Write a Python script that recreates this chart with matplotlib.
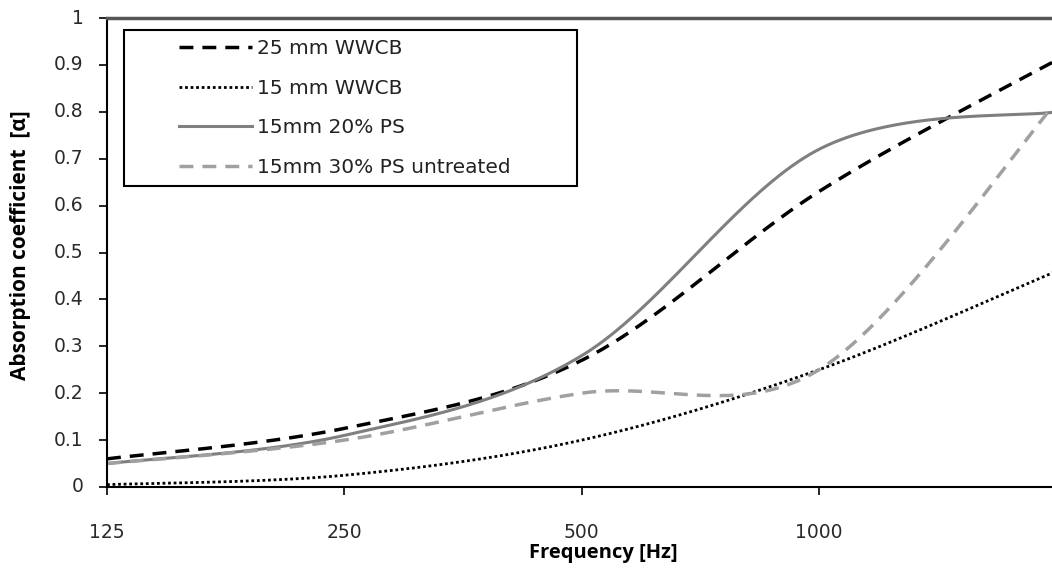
import numpy as np
import matplotlib
matplotlib.use("Agg")
import matplotlib.pyplot as plt
from matplotlib.patches import Rectangle

freqs = [125, 250, 500, 1000, 2000]
wwcb25 = [0.06, 0.125, 0.27, 0.63, 0.91]
wwcb15 = [0.005, 0.025, 0.10, 0.25, 0.46]
ps20 = [0.05, 0.11, 0.28, 0.72, 0.80]
ps30 = [0.05, 0.10, 0.20, 0.25, 0.82]
xticks = [125, 250, 500, 1000]
yticks = [0, 0.1, 0.2, 0.3, 0.4, 0.5, 0.6, 0.7, 0.8, 0.9, 1]
labels = ["25 mm WWCB", "15 mm WWCB", "15mm 20% PS", "15mm 30% PS untreated"]

# screen scale used for Excel-like smoothing (px per octave, px per unit)
SX, SY = 237.0, 469.0


def excel_smooth(xs, ys, n=80):
    X = np.log2(np.asarray(xs, float) / xs[0]) * SX
    Y = np.asarray(ys, float) * SY
    P = np.column_stack([X, Y])
    N = len(P)
    out = []
    for i in range(N - 1):
        P0 = P[i - 1] if i > 0 else P[i]
        P1, P2 = P[i], P[i + 1]
        P3 = P[i + 2] if i + 2 < N else P[i + 1]
        d02 = np.linalg.norm(P2 - P0)
        d12 = np.linalg.norm(P2 - P1)
        d13 = np.linalg.norm(P3 - P1)
        if d02 == 0 or d02 / 6 < d12 / 2:
            C1 = P1 + (P2 - P0) / 6
        else:
            C1 = P1 + (P2 - P0) * (d12 / 2) / d02
        if d13 == 0 or d13 / 6 < d12 / 2:
            C2 = P2 - (P3 - P1) / 6
        else:
            C2 = P2 - (P3 - P1) * (d12 / 2) / d13
        t = np.linspace(0, 1, n)[:, None]
        B = ((1 - t) ** 3) * P1 + 3 * ((1 - t) ** 2) * t * C1 + 3 * (1 - t) * t ** 2 * C2 + t ** 3 * P2
        out.append(B if i == 0 else B[1:])
    B = np.vstack(out)
    return xs[0] * 2 ** (B[:, 0] / SX), B[:, 1] / SY


plt.rcParams['font.family'] = ['DejaVu Sans']

fig = plt.figure(figsize=(10.52, 5.81), dpi=100)
ax = fig.add_axes([107 / 1052, 1 - 487 / 581, 1 - 107 / 1052, (487 - 18) / 581])

styles = [
    dict(color='black', lw=2.5, linestyle=(0, (4, 2.6))),
    dict(color='black', lw=2.0, linestyle=(0, (1, 1))),
    dict(color='#7f7f7f', lw=2.2, linestyle='-'),
    dict(color='#a0a0a0', lw=2.5, linestyle=(0, (4, 2.6))),
]
handles = []
for ys, lab, st in zip([wwcb25, wwcb15, ps20, ps30], labels, styles):
    xs, yy = excel_smooth(freqs, ys)
    h, = ax.plot(xs, yy, label=lab, **st)
    handles.append(h)

ax.set_xscale('log', base=2)
ax.set_xlim(125, 1975)
ax.set_ylim(0, 1)
ax.set_xticks(xticks)
ax.set_xticklabels([str(v) for v in xticks])
ax.xaxis.set_minor_locator(matplotlib.ticker.NullLocator())
ax.set_yticks(yticks)
ax.set_yticklabels([f'{v:g}' for v in yticks])

for s in ['left', 'bottom']:
    ax.spines[s].set_linewidth(1.5)
    ax.spines[s].set_color('black')
ax.spines['top'].set_linewidth(2.5)
ax.spines['top'].set_color('#555555')
ax.spines['right'].set_visible(False)

ax.tick_params(axis='y', direction='out', length=6, width=1.2, labelsize=13.5, pad=11)
ax.tick_params(axis='x', direction='out', length=6, width=1.2, labelsize=13.5, pad=20)
for lbl in ax.get_yticklabels():
    lbl.set_color('#2a2a2a')
    lbl.set_va('center')
for lbl in ax.get_xticklabels():
    lbl.set_color('#2a2a2a')

bold = dict(fontsize=14.5, fontweight='bold', family=['Open Sans', 'DejaVu Sans'])
ax.set_xlabel('Frequency [Hz]', **bold)
ax.xaxis.set_label_coords((603 - 107) / 945, -(543 - 487) / 469)
ax.set_ylabel('Absorption coefficient  [α]', fontsize=15, fontweight='bold',
              family=['Open Sans', 'DejaVu Sans'])
ax.yaxis.set_label_coords((31 - 107) / 945, (487 - 245) / 469)

# legend box (frame drawn separately, like the reference)
fig.patches.append(Rectangle((124 / 1052, 1 - 186 / 581), (577 - 124) / 1052, (186 - 30) / 581,
                             transform=fig.transFigure, fill=True, facecolor='white',
                             edgecolor='black', lw=1.5, zorder=5))
leg = fig.legend(handles=handles, labels=labels, loc='upper left',
                 bbox_to_anchor=(179 / 1052, 1 - 39 / 581), bbox_transform=fig.transFigure,
                 fontsize=14.5, frameon=False, handlelength=3.6, handletextpad=0.25,
                 borderpad=0, labelspacing=1.03, borderaxespad=0)
leg.set_zorder(6)
for txt in leg.get_texts():
    txt.set_color('#222222')

fig.savefig('out.png', dpi=100)
